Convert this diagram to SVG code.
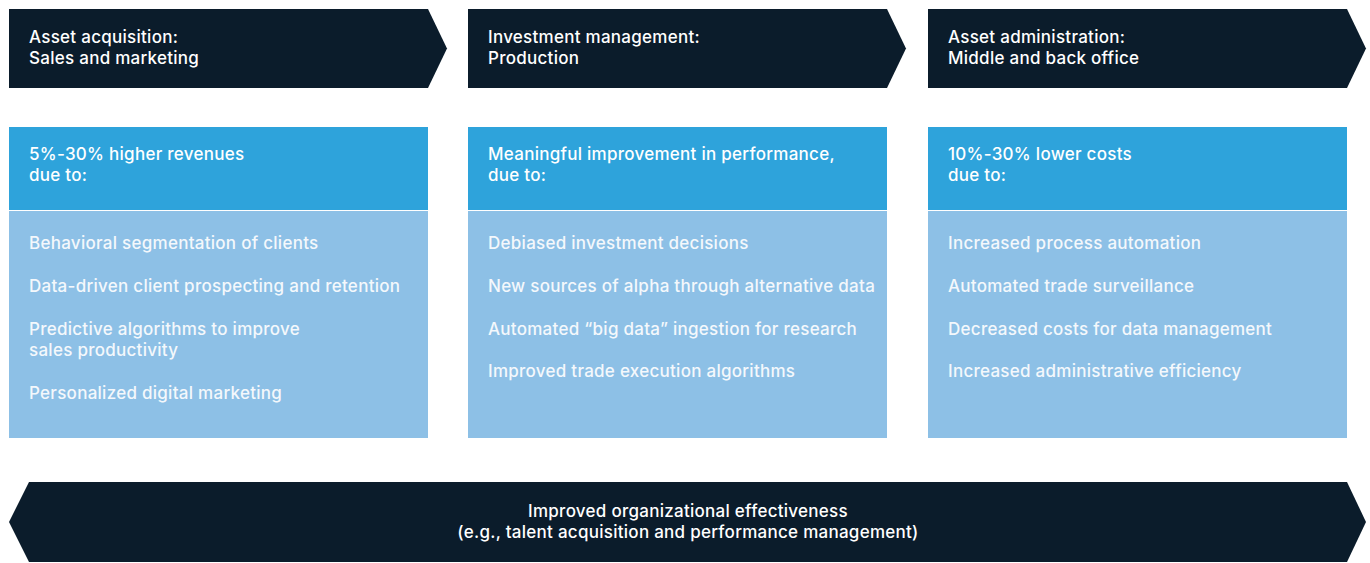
<svg xmlns="http://www.w3.org/2000/svg" width="1370" height="563" viewBox="0 0 1370 563">
<style>
.dark{fill:#0b1c2b}
.hdr{fill:#2ea3db}
.body{fill:#8dc0e6}
text{font-family:Inter,"Liberation Sans",sans-serif;font-size:17px;font-weight:500;letter-spacing:0.27px;fill:#ffffff}
.it{fill:#f4f8fc}
.c{text-anchor:middle}
</style>
<rect width="1370" height="563" fill="#ffffff"/>
<g id="stage1">
<polygon class="dark" points="9,9 428,9 447,48.5 428,88 9,88"/>
<text x="29" y="43">Asset acquisition:</text>
<text x="29" y="64">Sales and marketing</text>
</g>
<g id="stage2">
<polygon class="dark" points="468,9 887,9 906,48.5 887,88 468,88"/>
<text x="488" y="43">Investment management:</text>
<text x="488" y="64">Production</text>
</g>
<g id="stage3">
<polygon class="dark" points="928,9 1347,9 1366,48.5 1347,88 928,88"/>
<text x="948" y="43">Asset administration:</text>
<text x="948" y="64">Middle and back office</text>
</g>
<g id="box1">
<rect class="hdr" x="9" y="127" width="419" height="83"/>
<rect class="body" x="9" y="211" width="419" height="227"/>
<text x="29" y="160">5%-30% higher revenues</text>
<text x="29" y="181">due to:</text>
<text class="it" x="29" y="249">Behavioral segmentation of clients</text>
<text class="it" x="29" y="292">Data-driven client prospecting and retention</text>
<text class="it" x="29" y="335">Predictive algorithms to improve</text>
<text class="it" x="29" y="356">sales productivity</text>
<text class="it" x="29" y="399">Personalized digital marketing</text>
</g>
<g id="box2">
<rect class="hdr" x="468" y="127" width="419" height="83"/>
<rect class="body" x="468" y="211" width="419" height="227"/>
<text x="488" y="160">Meaningful improvement in performance,</text>
<text x="488" y="181">due to:</text>
<text class="it" x="488" y="249">Debiased investment decisions</text>
<text class="it" x="488" y="292">New sources of alpha through alternative data</text>
<text class="it" x="488" y="335">Automated “big data” ingestion for research</text>
<text class="it" x="488" y="377">Improved trade execution algorithms</text>
</g>
<g id="box3">
<rect class="hdr" x="928" y="127" width="419" height="83"/>
<rect class="body" x="928" y="211" width="419" height="227"/>
<text x="948" y="160">10%-30% lower costs</text>
<text x="948" y="181">due to:</text>
<text class="it" x="948" y="249">Increased process automation</text>
<text class="it" x="948" y="292">Automated trade surveillance</text>
<text class="it" x="948" y="335">Decreased costs for data management</text>
<text class="it" x="948" y="377">Increased administrative efficiency</text>
</g>
<g id="foundation">
<polygon class="dark" points="29,482 1347,482 1366,522 1347,562 29,562 9,522"/>
<text class="c" x="688" y="517">Improved organizational effectiveness</text>
<text class="c" x="688" y="538">(e.g., talent acquisition and performance management)</text>
</g>
<g id="connectors"></g>
</svg>
